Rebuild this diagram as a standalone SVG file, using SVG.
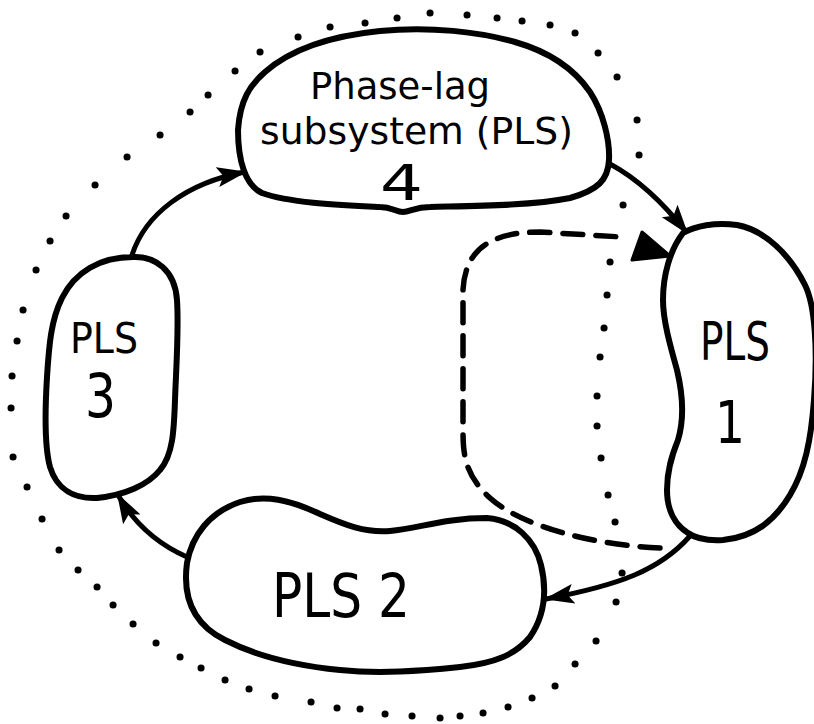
<svg xmlns="http://www.w3.org/2000/svg" width="814" height="724" viewBox="0 0 814 724">
<style>
.node{fill:#fff;stroke:#000;stroke-width:6;stroke-linejoin:round}
.conn{fill:none;stroke:#000;stroke-width:5;stroke-linecap:round}
.dash{fill:none;stroke:#000;stroke-width:5.5;stroke-dasharray:20 13;stroke-linecap:round}
.dots{fill:none;stroke:#000;stroke-width:7;stroke-linecap:round}
.t{font-family:"DejaVu Sans","Liberation Sans",sans-serif;fill:#000}
</style>
<defs>
<marker id="ah" markerUnits="userSpaceOnUse" markerWidth="30" markerHeight="22" refX="28" refY="11" orient="auto">
<path d="M0,1 L30,11 L0,21 L6,11 z" fill="#000"/>
</marker>
</defs>
<rect width="814" height="724" fill="#fff"/>
<path class="dots" d="M260,52h.1 M298,37h.1 M330,27h.1 M365,23h.1 M397,18h.1 M430,13h.1 M467,15h.1 M497,18h.1 M522,21h.1 M550,25h.1 M575,33h.1 M598,53h.1 M617,77h.1 M637,120h.1 M639,155h.1 M623,205h.1 M610,262h.1 M607,295h.1 M604,328h.1 M600,357h.1 M597,396h.1 M597,426h.1 M601,458h.1 M608,495h.1 M615,522h.1 M622,573h.1 M616,602h.1 M596,641h.1 M575,664h.1 M555,686h.1 M532,698h.1 M508,707h.1 M483,713h.1 M460,716h.1 M440,718h.1 M412,716h.1 M385,714h.1 M360,709h.1 M337,708h.1 M311,702h.1 M275,696h.1 M249,689h.1 M225,680h.1 M201,668h.1 M180,657h.1 M156,643h.1 M133,624h.1 M113,605h.1 M97,587h.1 M78,570h.1 M59,550h.1 M42,519h.1 M27,487h.1 M13,457h.1 M11,408h.1 M12,376h.1 M17,341h.1 M23,310h.1 M36,270h.1 M50,241h.1 M66,216h.1 M95,185h.1 M127,157h.1 M160,135h.1 M190,112h.1 M208,95h.1 M235,71h.1"/>
<g id="connectors">
<path class="conn" d="M132,255 C145,215 185,183 245,172" marker-end="url(#ah)"/>
<path class="conn" d="M610,164 C640,180 665,205 687,233" marker-end="url(#ah)"/>
<path class="conn" d="M690,536 C660,570 620,585 546,599" marker-end="url(#ah)"/>
<path class="conn" d="M187,557 C160,545 135,525 118,495" marker-end="url(#ah)"/>
<path class="dash" d="M660,548 C590,545 520,525 490,498 C465,475 463,455 463,430 L463,290 C465,250 490,232 540,232 L622,237"/>
<polygon points="642,232 632,260 670,256" fill="#000" stroke="#000" stroke-width="3" stroke-linejoin="round"/>
</g>
<g id="pls4">
<path class="node" d="M238,130 C240,100 250,85 265,72 C290,50 330,36 380,31 C430,26 480,32 515,42 C550,52 575,70 590,92 C603,112 610,140 609,160 C608,180 598,190 570,198 C530,206 470,206 430,207 C415,207 410,212 403,212 C396,212 392,207 380,207 C340,205 290,203 262,193 C245,185 238,160 238,130 Z"/>
<text class="t" x="310" y="99" font-size="38" textLength="180" lengthAdjust="spacingAndGlyphs">Phase-lag</text>
<text class="t" x="260" y="144" font-size="38" textLength="313" lengthAdjust="spacingAndGlyphs">subsystem (PLS)</text>
<text class="t" x="380" y="200" font-size="50" textLength="43" lengthAdjust="spacingAndGlyphs">4</text>
</g>
<g id="pls1">
<path class="node" d="M683,233 C695,226 715,222 737,225 C765,230 790,255 805,285 C815,305 818,350 814,400 C811,440 805,470 790,495 C775,520 755,537 723,540 C705,541 695,538 688,533 C675,525 667,510 667,490 C667,470 672,455 678,440 C684,420 683,395 677,370 C670,345 663,320 663,300 C663,275 670,250 683,233 Z"/>
<text class="t" x="700" y="360" font-size="54" textLength="70" lengthAdjust="spacingAndGlyphs">PLS</text>
<text class="t" x="715" y="443" font-size="58" textLength="30" lengthAdjust="spacingAndGlyphs">1</text>
</g>
<g id="pls3">
<path class="node" d="M133,257 C155,256 175,270 177,300 C179,330 176,370 175,400 C174,430 173,455 160,470 C148,485 125,495 97,498 C75,499 57,490 50,467 C44,445 45,410 47,377 C49,345 51,320 62,298 C75,272 100,257 133,257 Z"/>
<text class="t" x="70" y="353" font-size="42" textLength="68" lengthAdjust="spacingAndGlyphs">PLS</text>
<text class="t" x="85" y="417" font-size="60" textLength="31" lengthAdjust="spacingAndGlyphs">3</text>
</g>
<g id="pls2">
<path class="node" d="M187,563 C192,535 210,512 240,502 C265,494 290,500 320,514 C345,525 365,533 390,531 C420,528 445,518 487,518 C515,520 535,540 541,565 C547,590 545,615 530,637 C515,655 495,663 460,667 C420,671 380,674 340,670 C300,666 260,658 225,640 C195,625 182,600 187,563 Z"/>
<text class="t" x="272" y="617" font-size="60" textLength="138" lengthAdjust="spacingAndGlyphs">PLS 2</text>
</g>
</svg>
